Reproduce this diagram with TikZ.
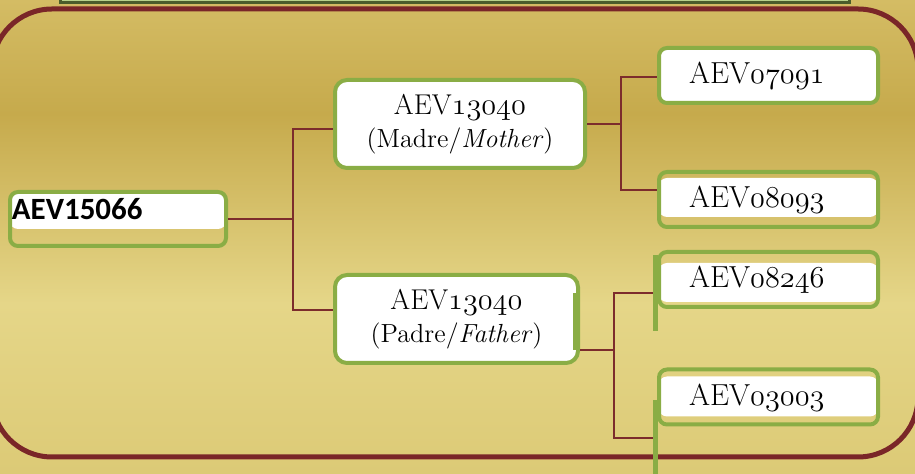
\documentclass[tikz,border=0pt]{standalone}
\usepackage{fontspec}
\newfontfamily\calibri{Carlito}
\newcommand\ofig[1]{{\fontencoding{OML}\fontfamily{lmm}\fontseries{m}\fontshape{it}\selectfont #1}}
\definecolor{bgtop}{RGB}{212,188,100}
\definecolor{bgdark}{RGB}{198,170,76}
\definecolor{bglight}{RGB}{229,214,136}
\definecolor{bgbot}{RGB}{220,202,118}
\definecolor{framered}{RGB}{122,38,40}
\definecolor{linkred}{RGB}{124,44,44}
\definecolor{boxgreen}{RGB}{138,173,69}
\definecolor{titlegreen}{RGB}{184,210,138}
\definecolor{titledark}{RGB}{74,93,43}
\pgfdeclareverticalshading{goldbg}{100bp}{color(0bp)=(bgbot); color(25bp)=(bgbot); color(43bp)=(bglight); color(63bp)=(bgdark); color(75bp)=(bgtop); color(100bp)=(bgtop)}
\tikzset{
  person/.style={rectangle, draw=boxgreen, line width=0.08cm, rounded corners=0.16cm, inner ysep=0pt},
  parent/.style={person, fill=white, rounded corners=0.24cm, align=center, minimum height=1.76cm, font=\fontsize{14.9}{18.7}\selectfont},
  child/.style={person, align=left, text width=3.18cm, inner xsep=0.6cm, text height=0.72cm, text depth=0.38cm, font=\fontsize{17.3}{20}\selectfont},
  rootbox/.style={person, align=left, text width=4.24cm, inner xsep=0.04cm, text height=0.56cm, text depth=0.52cm, font=\calibri\bfseries\fontsize{17.6}{20}\selectfont},
  band/.style 2 args={path picture={\fill[white] ([yshift=-#1]path picture bounding box.north west) rectangle ([yshift=-#2]path picture bounding box.north east);}},
  link/.style={draw=linkred, line width=0.04cm},
  stub/.style={draw=boxgreen, line width=0.1cm},
}
\begin{document}
\begin{tikzpicture}
  \useasboundingbox (0, 0) rectangle (18.3, -9.48);
  \shade[shading=goldbg] (0, 0) rectangle (18.3, -9.48);
  \draw[draw=framered, line width=0.1cm, rounded corners=1.2cm] (-0.16, -0.18) rectangle (18.36, -9.14);
  \draw[draw=titledark, fill=titlegreen, line width=0.06cm] (1.2, 0.5) rectangle (16.98, -0.06);

  \node (root) [rootbox, band={0cm}{0.74cm}] at (2.36, -4.38) {AEV15066};
  \node (madre) [parent, minimum width=5cm] at (9.2, -2.48) {{\fontsize{16.3}{18}\selectfont AEV\ofig{13040}}\\(Madre/\textit{Mother})};
  \node (padre) [parent, minimum width=4.86cm] at (9.13, -6.38) {{\fontsize{16.3}{18}\selectfont AEV\ofig{13040}}\\(Padre/\textit{Father})};
  \node (c1) [child, fill=white] at (15.37, -1.51) {AEV\ofig{07091}};
  \node (c2) [child, band={0.12cm}{0.9cm}] at (15.37, -3.99) {AEV\ofig{08093}};
  \node (c3) [child, band={0.22cm}{1cm}] at (15.37, -5.59) {AEV\ofig{08246}};
  \node (c4) [child, band={0.14cm}{0.94cm}] at (15.37, -7.94) {AEV\ofig{03003}};

  \draw[link] (root.east) -- ++(1.3, 0) |- ([yshift=-0.1cm]madre.west);
  \draw[link] (root.east) -- ++(1.3, 0) |- ([yshift=0.18cm]padre.west);
  \draw[link] (madre.east) -- ++(0.68, 0) |- ([yshift=-0.03cm]c1.west);
  \draw[link] (madre.east) -- ++(0.68, 0) |- ([yshift=0.19cm]c2.west);
  \draw[link] ([yshift=-0.62cm]padre.east) -- ++(0.68, 0) |- ([yshift=-0.27cm]c3.west);
  \draw[link] ([yshift=-0.62cm]padre.east) -- ++(0.68, 0) |- ([yshift=-0.82cm]c4.west);

  \draw[stub] ([shift={(-0.04, -0.1)}]c3.north west) -- ++(0, -1.52);
  \draw[stub] ([shift={(-0.04, -0.66)}]c4.north west) -- ++(0, -1.8);
  \draw[stub, line width=0.12cm] ([shift={(-0.08, 0.52)}]padre.east) -- ++(0, -1.14);
\end{tikzpicture}
\end{document}
